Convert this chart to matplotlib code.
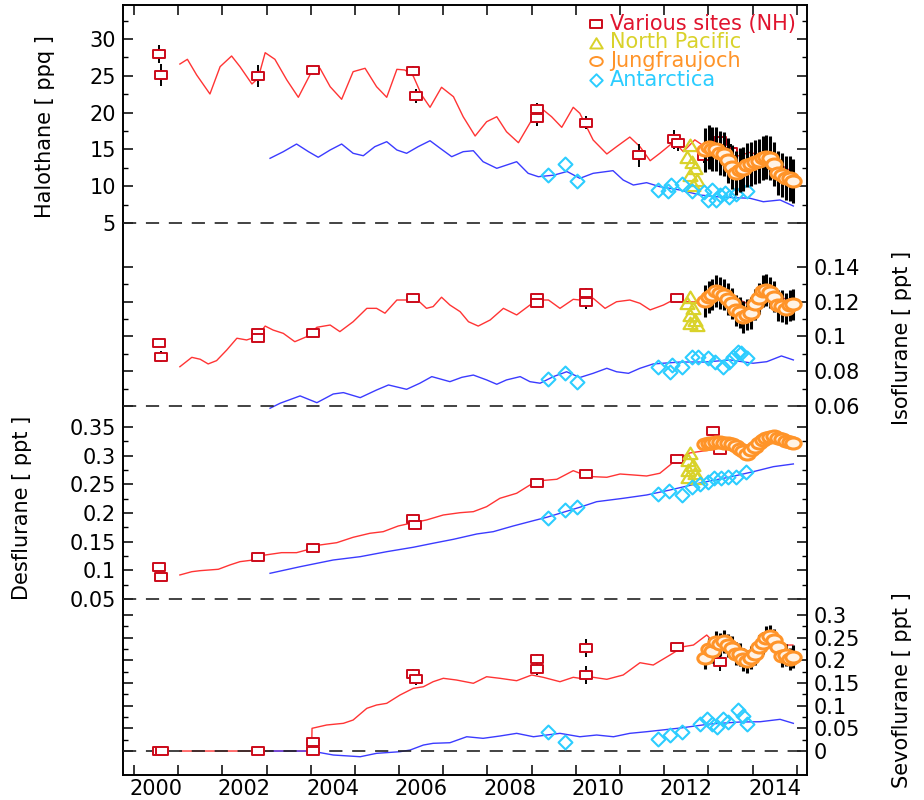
import numpy as np
import matplotlib
matplotlib.use('Agg')
import matplotlib.pyplot as plt
from matplotlib.path import Path
from matplotlib.ticker import FixedLocator, FixedFormatter, NullFormatter

plt.rcParams['font.family'] = ['DejaVu Sans']
plt.rcParams['lines.scale_dashes'] = False

# ---------------- data ----------------
year_labels = ['2000', '2002', '2004', '2006', '2008', '2010', '2012', '2014']
year_label_pos = [2000, 2002, 2004, 2006, 2008, 2010, 2012, 2014]
year_tick_pos = [1999.5, 2000.5, 2001.5, 2002.5, 2003.5, 2004.5, 2005.5, 2006.5,
                 2007.5, 2008.5, 2009.5, 2010.5, 2011.5, 2012.5, 2013.5, 2014.5]

legend_labels = ['Various sites (NH)', 'North Pacific', 'Jungfraujoch', 'Antarctica']

# Halothane (ppq)
hal_nh_yr = [2000.54, 2000.71, 2000.92, 2001.22, 2001.45, 2001.71, 2001.90, 2002.17, 2002.31, 2002.47,
             2002.69, 2002.96, 2003.22, 2003.52, 2003.71, 2003.94, 2004.20, 2004.46, 2004.73, 2004.99,
             2005.22, 2005.45, 2005.63, 2005.82, 2006.01, 2006.20, 2006.46, 2006.73, 2006.95, 2007.22,
             2007.48, 2007.71, 2007.93, 2008.20, 2008.50, 2008.69, 2008.95, 2009.18, 2009.44, 2009.59,
             2009.89, 2010.20, 2010.42, 2010.72, 2010.95, 2011.18, 2011.40, 2011.63, 2011.74, 2011.93,
             2012.19, 2012.53, 2012.99, 2013.44, 2013.89, 2014.41]
hal_nh_val = [26.60, 27.24, 25.11, 22.53, 26.24, 27.69, 26.24, 23.89, 24.66, 28.14,
              27.24, 24.43, 22.08, 25.56, 26.02, 23.52, 21.81, 25.56, 26.02, 23.52,
              22.08, 25.88, 25.79, 24.97, 22.39, 20.72, 23.44, 22.16, 19.44, 16.82,
              18.76, 19.44, 17.40, 15.91, 18.99, 20.72, 19.44, 18.00, 20.72, 19.90,
              16.28, 14.38, 15.37, 16.68, 15.37, 13.46, 14.47, 15.60, 15.91, 14.69,
              16.3, 14.9, 13.8, 14.6, 13.8, 11.9]
hal_aa_yr = [2002.58, 2002.88, 2003.18, 2003.45, 2003.67, 2003.94, 2004.20, 2004.46, 2004.69, 2004.95,
             2005.22, 2005.45, 2005.67, 2005.93, 2006.20, 2006.43, 2006.69, 2006.95, 2007.18, 2007.40,
             2007.71, 2008.16, 2008.42, 2008.65, 2009.00, 2009.30, 2009.59, 2009.89, 2010.34, 2010.57,
             2010.80, 2011.10, 2011.40, 2011.86, 2012.31, 2012.76, 2013.44, 2013.74, 2014.12, 2014.42]
hal_aa_val = [13.79, 14.69, 15.73, 14.69, 13.93, 14.92, 15.73, 14.47, 14.14, 15.37,
              16.05, 14.92, 14.47, 15.37, 16.18, 15.15, 14.01, 14.69, 14.82, 13.33,
              12.43, 13.33, 11.75, 11.29, 11.5, 12.0, 11.07, 11.75, 12.11, 10.84,
              10.16, 10.48, 9.93, 9.48, 8.80, 8.53, 8.36, 7.89, 8.13, 7.31]
hal_nh_obs_yr = [2000.07, 2000.11, 2002.31, 2003.56, 2005.82, 2005.88, 2008.61, 2008.61, 2009.74,
                 2010.93, 2011.73, 2011.80, 2012.40, 2012.76, 2013.02]
hal_nh_obs = [27.92, 25.11, 24.97, 25.79, 25.65, 22.26, 20.45, 19.23, 18.63,
              14.20, 16.37, 15.82, 14.10, 16.10, 14.69]
hal_nh_err = [1.2, 1.5, 1.5, 0.5, 0.7, 0.9, 0.8, 1.0, 0.9, 1.6, 1.3, 1.0, 1.0, 1.0, 1.0]
hal_np_yr = [2012.08, 2012.01, 2012.12, 2012.19, 2012.08, 2012.23, 2012.15]
hal_np = [15.60, 14.01, 13.33, 12.43, 11.52, 10.84, 10.10]
hal_aa_obs_yr = [2008.88, 2009.25, 2009.52, 2011.36, 2011.58, 2011.65, 2011.90, 2012.13, 2012.40,
                 2012.49, 2012.58, 2012.67, 2012.76, 2012.87, 2012.96, 2013.12, 2013.37]
hal_aa_obs = [11.52, 12.97, 10.71, 9.48, 9.35, 10.16, 10.30, 9.35, 9.21,
              8.13, 9.48, 8.13, 8.80, 9.08, 8.53, 8.94, 9.35]

# Jungfraujoch sampling times (common)
jfj_yr = [2012.42, 2012.51, 2012.59, 2012.68, 2012.77, 2012.86, 2012.94, 2013.03, 2013.12, 2013.21,
          2013.29, 2013.38, 2013.47, 2013.55, 2013.64, 2013.73, 2013.81, 2013.90, 2013.99, 2014.08,
          2014.16, 2014.25, 2014.34, 2014.42]
hal_jfj = [14.92, 15.35, 15.10, 15.05, 14.55, 14.40, 13.50, 12.60, 11.80, 12.20,
           12.35, 12.90, 13.05, 13.30, 13.40, 13.80, 13.95, 13.80, 13.00, 11.85,
           11.50, 11.10, 11.05, 10.70]
hal_jfj_err = 3.0

# Isoflurane (ppt)
iso_nh_yr = [2000.54, 2000.81, 2001.00, 2001.18, 2001.37, 2001.60, 2001.83, 2002.05, 2002.28, 2002.47,
             2002.65, 2002.88, 2003.14, 2003.41, 2003.64, 2003.94, 2004.16, 2004.46, 2004.77, 2004.99,
             2005.18, 2005.45, 2005.67, 2005.90, 2006.12, 2006.27, 2006.46, 2006.65, 2006.88, 2007.07,
             2007.29, 2007.56, 2007.86, 2008.16, 2008.46, 2008.61, 2008.88, 2009.14, 2009.44, 2009.59,
             2009.89, 2010.16, 2010.42, 2010.72, 2010.95, 2011.18, 2011.48, 2011.70, 2012.08, 2012.46,
             2012.99, 2013.44, 2013.89, 2014.41]
iso_nh_val = [0.0826, 0.0880, 0.0869, 0.0842, 0.0861, 0.0922, 0.0990, 0.0980, 0.0999, 0.1060,
              0.1037, 0.1018, 0.0970, 0.0999, 0.1053, 0.1066, 0.1028, 0.1085, 0.1162, 0.1162,
              0.1134, 0.1210, 0.1210, 0.1214, 0.1162, 0.1172, 0.1226, 0.1181, 0.1143, 0.1085,
              0.1060, 0.1095, 0.1162, 0.1124, 0.1181, 0.1210, 0.1210, 0.1162, 0.1214, 0.1210,
              0.1220, 0.1162, 0.1200, 0.1210, 0.1191, 0.1153, 0.1181, 0.1210, 0.1199, 0.1200,
              0.1239, 0.1181, 0.1233, 0.1210]
iso_aa_yr = [2002.58, 2002.81, 2003.26, 2003.64, 2004.01, 2004.24, 2004.62, 2004.99, 2005.26, 2005.67,
             2005.97, 2006.24, 2006.65, 2006.92, 2007.18, 2007.48, 2007.71, 2007.93, 2008.24, 2008.46,
             2008.69, 2008.99, 2009.29, 2009.59, 2009.89, 2010.20, 2010.42, 2010.69, 2010.95, 2011.25,
             2011.86, 2012.42, 2012.99, 2013.51, 2013.82, 2014.15, 2014.42]
iso_aa_val = [0.0587, 0.0616, 0.0658, 0.0619, 0.0669, 0.0677, 0.0648, 0.0692, 0.0721, 0.0696,
              0.0731, 0.0769, 0.0740, 0.0765, 0.0778, 0.0750, 0.0725, 0.0750, 0.0769, 0.0740,
              0.0731, 0.0769, 0.0797, 0.0764, 0.0788, 0.0817, 0.0797, 0.0788, 0.0817, 0.0842,
              0.0853, 0.0853, 0.0865, 0.0846, 0.0855, 0.0888, 0.0865]
iso_nh_obs_yr = [2000.07, 2000.11, 2002.31, 2002.31, 2003.56, 2005.82, 2008.61, 2008.61, 2009.74,
                 2009.74, 2011.78]
iso_nh_obs = [0.0964, 0.0884, 0.1022, 0.0990, 0.1022, 0.1223, 0.1220, 0.1195, 0.1249, 0.1200, 0.1220]
iso_nh_err = [0.002, 0.003, 0.002, 0.002, 0.001, 0.002, 0.002, 0.002, 0.003, 0.004, 0.002]
iso_np_yr = [2012.08, 2012.01, 2012.16, 2012.08, 2012.19, 2012.08, 2012.24]
iso_np = [0.1229, 0.1191, 0.1162, 0.1124, 0.1095, 0.1076, 0.1066]
iso_aa_obs_yr = [2008.88, 2009.25, 2009.52, 2011.36, 2011.63, 2011.67, 2011.90, 2012.13, 2012.26,
                 2012.49, 2012.65, 2012.83, 2012.96, 2013.05, 2013.17, 2013.24, 2013.37]
iso_aa_obs = [0.0754, 0.0792, 0.0740, 0.0824, 0.0796, 0.0836, 0.0824, 0.0882, 0.0882,
              0.0876, 0.0853, 0.0824, 0.0853, 0.0882, 0.0911, 0.0905, 0.0876]
iso_jfj = [0.1205, 0.1228, 0.1240, 0.1262, 0.1250, 0.1240, 0.1215, 0.1190, 0.1150, 0.1140,
           0.1112, 0.1125, 0.1135, 0.1185, 0.1220, 0.1262, 0.1268, 0.1255, 0.1230, 0.1180,
           0.1175, 0.1160, 0.1180, 0.1185]
iso_jfj_err = 0.009

# Desflurane (ppt)
des_nh_yr = [2000.54, 2000.81, 2001.00, 2001.41, 2001.67, 2001.90, 2002.20, 2002.47, 2002.84, 2003.18,
             2003.41, 2003.71, 2004.09, 2004.46, 2004.84, 2005.14, 2005.48, 2005.82, 2006.12, 2006.50,
             2006.88, 2007.18, 2007.48, 2007.78, 2008.16, 2008.46, 2008.69, 2009.07, 2009.44, 2009.59,
             2009.89, 2010.20, 2010.50, 2010.80, 2011.10, 2011.40, 2011.63, 2011.78, 2012.08, 2012.53,
             2012.99, 2013.44, 2013.89, 2014.41]
des_nh_val = [0.0919, 0.0976, 0.0994, 0.1018, 0.1093, 0.1151, 0.1180, 0.1267, 0.1308, 0.1308,
              0.1355, 0.1442, 0.1482, 0.1576, 0.1646, 0.1674, 0.1773, 0.1831, 0.1878, 0.1965,
              0.2005, 0.2023, 0.2110, 0.2256, 0.2344, 0.2488, 0.2563, 0.2588, 0.2738, 0.2693,
              0.2633, 0.2623, 0.2680, 0.2663, 0.2645, 0.2693, 0.2837, 0.2937, 0.3047, 0.3099,
              0.3134, 0.3186, 0.3221, 0.3244]
des_aa_yr = [2002.58, 2003.26, 2004.01, 2004.62, 2005.22, 2005.82, 2006.27, 2006.73, 2007.26, 2007.63,
             2008.08, 2008.54, 2008.84, 2009.59, 2009.97, 2010.57, 2011.10, 2011.63, 2012.31, 2012.99,
             2013.51, 2013.97, 2014.42]
des_aa_val = [0.0948, 0.1063, 0.1180, 0.1238, 0.1325, 0.1402, 0.1472, 0.1541, 0.1634, 0.1674,
              0.1773, 0.1866, 0.1925, 0.2100, 0.2197, 0.2256, 0.2314, 0.2401, 0.2523, 0.2628,
              0.2720, 0.2808, 0.2855]
des_nh_obs_yr = [2000.07, 2000.11, 2002.31, 2003.56, 2005.82, 2005.86, 2008.61, 2009.74, 2011.78,
                 2012.61, 2012.76]
des_nh_obs = [0.1063, 0.0878, 0.1227, 0.1395, 0.1895, 0.1791, 0.2529, 0.2680, 0.2937, 0.3430, 0.3099]
des_nh_err = [0.002, 0.003, 0.002, 0.002, 0.002, 0.004, 0.002, 0.002, 0.002, 0.003, 0.003]
des_np_yr = [2012.08, 2012.04, 2012.16, 2012.04, 2012.19, 2012.04, 2012.24]
des_np = [0.3041, 0.2925, 0.2837, 0.2750, 0.2693, 0.2633, 0.2611]
des_aa_obs_yr = [2008.88, 2009.25, 2009.52, 2011.36, 2011.61, 2011.90, 2012.13, 2012.31, 2012.49,
                 2012.62, 2012.78, 2012.94, 2013.12, 2013.35]
des_aa_obs = [0.1918, 0.2052, 0.2110, 0.2332, 0.2384, 0.2314, 0.2454, 0.2506, 0.2541,
              0.2611, 0.2611, 0.2628, 0.2628, 0.2715]
des_jfj = [0.3204, 0.3212, 0.3228, 0.3239, 0.3232, 0.3221, 0.3218, 0.3195, 0.3160, 0.3122,
           0.3075, 0.3036, 0.3106, 0.3158, 0.3212, 0.3265, 0.3308, 0.3331, 0.3336, 0.3314,
           0.3282, 0.3252, 0.3235, 0.3221]
des_jfj_err = 0.005

# Sevoflurane (ppt)
sev_nh_yr = [2000.54, 2003.52, 2003.53, 2003.86, 2004.24, 2004.46, 2004.77, 2004.99, 2005.22, 2005.52,
             2005.82, 2006.05, 2006.27, 2006.50, 2006.80, 2007.18, 2007.48, 2007.78, 2008.16, 2008.50,
             2008.76, 2009.14, 2009.44, 2009.59, 2009.89, 2010.20, 2010.57, 2010.95, 2011.25, 2011.63,
             2011.93, 2012.16, 2012.46, 2012.57, 2012.99, 2013.44, 2013.89, 2014.41]
sev_nh_val = [0.0, 0.0, 0.0501, 0.0574, 0.0611, 0.0684, 0.0942, 0.1015, 0.1052, 0.1235,
              0.1383, 0.1418, 0.1529, 0.1604, 0.1566, 0.1494, 0.1639, 0.1604, 0.1551, 0.1677,
              0.1626, 0.1529, 0.1626, 0.1604, 0.1626, 0.1582, 0.1677, 0.1948, 0.1897, 0.2118,
              0.2301, 0.2338, 0.2559, 0.2449, 0.2228, 0.2007, 0.2338, 0.2338]
sev_aa_yr = [2002.58, 2003.51, 2004.01, 2004.62, 2004.99, 2005.52, 2005.75, 2006.05, 2006.27, 2006.65,
             2007.03, 2007.40, 2007.78, 2008.16, 2008.54, 2008.84, 2009.14, 2009.59, 2009.97, 2010.35,
             2010.72, 2011.10, 2011.86, 2012.53, 2013.21, 2013.67, 2014.12, 2014.42]
sev_aa_val = [0.0, 0.0, -0.0088, -0.0126, -0.0051, -0.0015, 0.0022, 0.0132, 0.0170, 0.0183,
              0.0315, 0.0280, 0.0331, 0.0390, 0.0315, 0.0353, 0.0390, 0.0315, 0.0353, 0.0315,
              0.0390, 0.0426, 0.0507, 0.0596, 0.0640, 0.0646, 0.0699, 0.0611]
sev_nh_obs_yr = [2000.07, 2000.13, 2002.31, 2003.56, 2003.56, 2005.82, 2005.88, 2008.61, 2008.61,
                 2009.74, 2009.74, 2011.78, 2012.76]
sev_nh_obs = [0.0, 0.0, 0.0, 0.0205, 0.0, 0.1692, 0.1582, 0.2023, 0.1802, 0.2266, 0.1677, 0.2301, 0.1970]
sev_nh_err = [0.0, 0.0, 0.0, 0.0, 0.0, 0.012, 0.012, 0.012, 0.012, 0.02, 0.02, 0.008, 0.02]
sev_aa_obs_yr = [2008.88, 2009.25, 2011.36, 2011.63, 2011.90, 2012.31, 2012.47, 2012.58, 2012.69,
                 2012.83, 2012.94, 2013.17, 2013.28, 2013.37]
sev_aa_obs = [0.0426, 0.0205, 0.0265, 0.0353, 0.0419, 0.0596, 0.0706, 0.0596, 0.0529,
              0.0706, 0.0640, 0.0904, 0.0772, 0.0596]
sev_jfj = [0.2050, 0.2250, 0.2200, 0.2400, 0.2350, 0.2420, 0.2330, 0.2280, 0.2150, 0.2130,
           0.2020, 0.1980, 0.2060, 0.2150, 0.2300, 0.2380, 0.2500, 0.2540, 0.2450, 0.2300,
           0.2100, 0.2120, 0.2030, 0.2080]
sev_jfj_err = 0.025

# ---------------- style ----------------
C_RED_LINE = '#ff3434'
C_BLUE_LINE = '#3b3bff'
C_SQ = '#cc0a1a'
C_TRI = '#d9d22a'
C_CIRC = '#ff9429'
C_DIA = '#2ccdff'
TXT_RED = '#e0142e'

def closed_path(verts):
    verts = list(verts) + [verts[0]]
    codes = [Path.MOVETO] + [Path.LINETO] * (len(verts) - 2) + [Path.CLOSEPOLY]
    return Path(verts, codes)

SQ_M = closed_path([(-1, -0.68), (1, -0.68), (1, 0.68), (-1, 0.68)])
TRI_M = closed_path([(-1, -0.8), (1, -0.8), (0, 0.85)])
DIA_M = closed_path([(0, -1), (1, 0), (0, 1), (-1, 0)])
uc = Path.unit_circle()
CIRC_M = Path(uc.vertices * np.array([1.0, 0.72]), uc.codes)

W_PX, H_PX = 924, 800
L_PX, R_PX, T_PX, B_PX = 123, 807, 5, 775
rect = [L_PX / W_PX, 1 - B_PX / H_PX, (R_PX - L_PX) / W_PX, (B_PX - T_PX) / H_PX]
XLIM = (1999.253, 2014.729)
TICK_FS = 15

fig = plt.figure(figsize=(W_PX / 100, H_PX / 100), dpi=100)

frame = fig.add_axes(rect)
frame.set_xlim(*XLIM)
frame.set_ylim(0, 1)
frame.set_yticks([])
frame.xaxis.set_major_locator(FixedLocator(year_label_pos))
frame.xaxis.set_major_formatter(FixedFormatter(year_labels))
frame.xaxis.set_minor_locator(FixedLocator(year_tick_pos))
frame.tick_params(axis='x', which='major', length=0, labelsize=TICK_FS, pad=3)
frame.tick_params(axis='x', which='minor', direction='in', length=7.2, width=1.1,
                  top=True, bottom=True)
for s in frame.spines.values():
    s.set_linewidth(1.4)


def make_panel(ylim, majors, labels, minors, side, base):
    ax = fig.add_axes(rect)
    ax.patch.set_visible(False)
    for s in ax.spines.values():
        s.set_visible(False)
    ax.set_xlim(*XLIM)
    ax.set_ylim(*ylim)
    ax.tick_params(axis='x', which='both', bottom=False, top=False, labelbottom=False)
    ax.yaxis.set_major_locator(FixedLocator(majors))
    ax.yaxis.set_major_formatter(FixedFormatter(labels))
    ax.yaxis.set_minor_locator(FixedLocator(minors))
    ax.yaxis.set_minor_formatter(NullFormatter())
    ax.tick_params(axis='y', which='both', direction='in', left=True, right=True,
                   labelleft=(side == 'left'), labelright=(side == 'right'))
    ax.tick_params(axis='y', which='major', length=7.2, width=1.1, labelsize=TICK_FS, pad=5)
    ax.tick_params(axis='y', which='minor', length=3.6, width=1.0)
    ax.axhline(base, color='#222222', lw=1.2, dashes=(9.5, 7.0), zorder=1.6)
    return ax


def draw(ax, nh_yr, nh_val, aa_yr, aa_val, obs_yr, obs, obs_err,
         np_yr, np_val, aa_obs_yr, aa_obs, jfj, jfj_err):
    ax.plot(nh_yr, nh_val, color=C_RED_LINE, lw=1.0, zorder=1.3)
    ax.plot(aa_yr, aa_val, color=C_BLUE_LINE, lw=1.0, zorder=1.3)
    # NH stations
    ax.errorbar(obs_yr, obs, yerr=obs_err, fmt='none', ecolor='k', elinewidth=1.4,
                capsize=0, zorder=2.0)
    ax.plot(obs_yr, obs, ls='none', marker=SQ_M, ms=8, mfc='white', mec=C_SQ, mew=1.4,
            zorder=2.2)
    # North Pacific
    if np_yr is not None:
        ax.plot(np_yr, np_val, ls='none', marker=TRI_M, ms=10, mfc='none', mec=C_TRI,
                mew=1.6, zorder=2.3)
    # Antarctica
    ax.plot(aa_obs_yr, aa_obs, ls='none', marker=DIA_M, ms=10, mfc='none', mec=C_DIA,
            mew=1.5, zorder=2.4)
    # Jungfraujoch
    ax.errorbar(jfj_yr, jfj, yerr=jfj_err, fmt='none', ecolor='k', elinewidth=2.2,
                capsize=0, zorder=2.5)
    ax.plot(jfj_yr, jfj, ls='none', marker=CIRC_M, ms=11, mfc='#fff3e6', mec=C_CIRC,
            mew=2.2, zorder=2.6)


ax1 = make_panel((-70.0, 34.62), [5, 10, 15, 20, 25, 30], ['5', '10', '15', '20', '25', '30'],
                 [7.5, 12.5, 17.5, 22.5, 27.5, 32.5], 'left', 5)
draw(ax1, hal_nh_yr, hal_nh_val, hal_aa_yr, hal_aa_val, hal_nh_obs_yr, hal_nh_obs, hal_nh_err,
     hal_np_yr, hal_np, hal_aa_obs_yr, hal_aa_obs, hal_jfj, hal_jfj_err)

ax2 = make_panel((-0.1524, 0.2908), [0.06, 0.08, 0.10, 0.12, 0.14],
                 ['0.06', '0.08', '0.1', '0.12', '0.14'],
                 [0.07, 0.09, 0.11, 0.13], 'right', 0.06)
draw(ax2, iso_nh_yr, iso_nh_val, iso_aa_yr, iso_aa_val, iso_nh_obs_yr, iso_nh_obs, iso_nh_err,
     iso_np_yr, iso_np, iso_aa_obs_yr, iso_aa_obs, iso_jfj, iso_jfj_err)

ax3 = make_panel((-0.257, 1.086), [0.05, 0.10, 0.15, 0.20, 0.25, 0.30, 0.35],
                 ['0.05', '0.1', '0.15', '0.2', '0.25', '0.3', '0.35'],
                 [0.075, 0.125, 0.175, 0.225, 0.275, 0.325], 'left', 0.05)
draw(ax3, des_nh_yr, des_nh_val, des_aa_yr, des_aa_val, des_nh_obs_yr, des_nh_obs, des_nh_err,
     des_np_yr, des_np, des_aa_obs_yr, des_aa_obs, des_jfj, des_jfj_err)

ax4 = make_panel((-0.0529, 1.6457), [0.0, 0.05, 0.10, 0.15, 0.20, 0.25, 0.30],
                 ['0', '0.05', '0.1', '0.15', '0.2', '0.25', '0.3'],
                 [0.025, 0.075, 0.125, 0.175, 0.225, 0.275], 'right', 0.0)
draw(ax4, sev_nh_yr, sev_nh_val, sev_aa_yr, sev_aa_val, sev_nh_obs_yr, sev_nh_obs, sev_nh_err,
     None, None, sev_aa_obs_yr, sev_aa_obs, sev_jfj, sev_jfj_err)

# y labels
LAB_FS = 15
fig.text(45 / W_PX, 1 - 127 / H_PX, 'Halothane [ ppq ]', rotation=90, ha='center', va='center',
         fontsize=LAB_FS)
fig.text(22 / W_PX, 1 - 508 / H_PX, 'Desflurane [ ppt ]', rotation=90, ha='center', va='center',
         fontsize=LAB_FS)
fig.text(902 / W_PX, 1 - 338 / H_PX, 'Isoflurane [ ppt ]', rotation=90, ha='center', va='center',
         fontsize=LAB_FS)
fig.text(902 / W_PX, 1 - 690 / H_PX, 'Sevoflurane [ ppt ]', rotation=90, ha='center', va='center',
         fontsize=LAB_FS)

# legend (manual, top right)
leg_markers = [SQ_M, TRI_M, CIRC_M, DIA_M]
leg_mec = [C_SQ, C_TRI, C_CIRC, C_DIA]
leg_txt = [TXT_RED, C_TRI, C_CIRC, C_DIA]
leg_ms = [8, 9, 9, 9]
leg_rows_px = [24, 42.5, 61, 79.5]
for mk, mec, tc, ms, lab, ypx in zip(leg_markers, leg_mec, leg_txt, leg_ms, legend_labels, leg_rows_px):
    yf = (B_PX - ypx) / (B_PX - T_PX)
    frame.plot([(596 - L_PX) / (R_PX - L_PX)], [yf], transform=frame.transAxes, ls='none',
               marker=mk, ms=ms, mfc='white', mec=mec, mew=1.4, clip_on=False, zorder=5)
    frame.text((610 - L_PX) / (R_PX - L_PX), yf, lab, transform=frame.transAxes, color=tc,
               fontsize=15, ha='left', va='center', zorder=5)

fig.savefig('out.png', dpi=100)
